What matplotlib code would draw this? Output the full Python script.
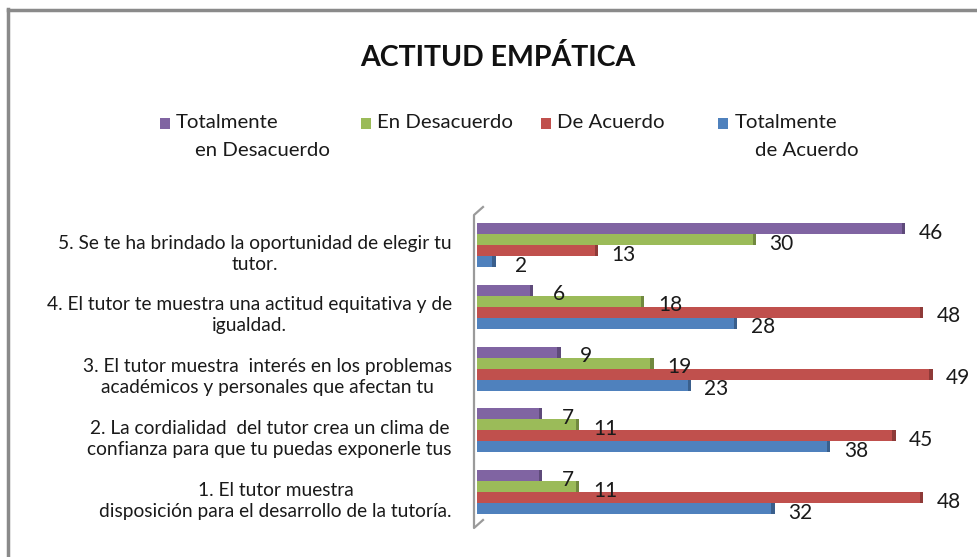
import matplotlib
matplotlib.use("Agg")
import matplotlib.pyplot as plt
import matplotlib.transforms as mtransforms
from matplotlib.lines import Line2D
from matplotlib.patches import Rectangle
import numpy as np

plt.rcParams['font.family'] = ['Lato', 'DejaVu Sans']

# Survey items (bottom to top)
categories = [
    "1. El tutor muestra\ndisposición para el desarrollo de la tutoría.",
    "2. La cordialidad  del tutor crea un clima de\nconfianza para que tu puedas exponerle tus",
    "3. El tutor muestra  interés en los problemas\nacadémicos y personales que afectan tu",
    "4. El tutor te muestra una actitud equitativa y de\nigualdad.",
    "5. Se te ha brindado la oportunidad de elegir tu\ntutor.",
]

series_names = ["Totalmente en Desacuerdo", "En Desacuerdo", "De Acuerdo", "Totalmente de Acuerdo"]
totalmente_desacuerdo = [7, 7, 9, 6, 46]
en_desacuerdo = [11, 11, 19, 18, 30]
de_acuerdo = [48, 45, 49, 48, 13]
totalmente_acuerdo = [32, 38, 23, 28, 2]

colors = ["#8064A2", "#9BBB59", "#C0504D", "#4F81BD"]
dark = ["#5E4A7A", "#71893F", "#8E3A38", "#3A5F8C"]

W, H = 978, 557
fig = plt.figure(figsize=(W / 100, H / 100), dpi=100)

# plot area in pixel units
x0_px, px_per_unit = 477, 9.3
xmax = 52
ax_left = x0_px / W
ax_width = xmax * px_per_unit / W
ax_top_px, ax_bot_px = 210, 522
ax = fig.add_axes([ax_left, 1 - ax_bot_px / H, ax_width, (ax_bot_px - ax_top_px) / H])

group_px = 61.75
bar_h = 11 / group_px
y = np.arange(len(categories))
offsets = [1.5 * bar_h, 0.5 * bar_h, -0.5 * bar_h, -1.5 * bar_h]
data = [totalmente_desacuerdo, en_desacuerdo, de_acuerdo, totalmente_acuerdo]

for vals, off, c, dc in zip(data, offsets, colors, dark):
    ypos = y + off
    ax.barh(ypos, vals, height=bar_h, color=c, edgecolor="none", zorder=2)
    # darker end face
    ax.barh(ypos, [0.35] * len(vals), left=np.array(vals) - 0.35, height=bar_h,
            color=dc, edgecolor="none", zorder=3)
    for yy, v in zip(ypos, vals):
        ax.annotate(str(v), (v, yy), xytext=(18.5, -3), textcoords="offset points",
                    ha="center", va="center", fontsize=15, color="#1a1a1a", zorder=4)

ax.set_xlim(0, xmax)
ax.set_ylim(-(ax_bot_px - 492) / group_px, 4 + (245 - ax_top_px) / group_px)
ax.set_yticks(y)
ax.set_yticklabels(categories, fontsize=13.8, multialignment="center", color="#1a1a1a",
                   linespacing=1.3)
ax.tick_params(axis="y", length=0, pad=18)
shift = mtransforms.ScaledTranslation(0, -5 / 100, fig.dpi_scale_trans)
for lbl in ax.get_yticklabels():
    lbl.set_transform(lbl.get_transform() + shift)
ax.set_xticks([])
for s in ax.spines.values():
    s.set_visible(False)
ax.patch.set_alpha(0)


def fx(px):
    return px / W


def fy(py):
    return 1 - py / H


# 3D-style wall on the left of the plot area
wall = Line2D([fx(483), fx(474), fx(474), fx(483)],
              [fy(207), fy(215), fy(528), fy(520)],
              transform=fig.transFigure, color="#9a9a9a", lw=1.6, zorder=1)
fig.add_artist(wall)

# chart border (top and left)
fig.add_artist(Line2D([fx(8), fx(8)], [fy(9), fy(557)], transform=fig.transFigure,
                      color="#8a8a8a", lw=2.5))
fig.add_artist(Line2D([fx(8), fx(978)], [fy(10), fy(10)], transform=fig.transFigure,
                      color="#8a8a8a", lw=2.5))

fig.text(fx(498), fy(57), "ACTITUD EMPÁTICA", ha="center", va="center",
         fontsize=20.5, fontweight="bold", color="#111111")

# legend
legend_items = [
    (160, ["Totalmente", "en Desacuerdo"], [176, 195]),
    (361, ["En Desacuerdo"], [377]),
    (541, ["De Acuerdo"], [557]),
    (718, ["Totalmente", "de Acuerdo"], [735, 755]),
]
for (sx, lines, txs), c in zip(legend_items, colors):
    fig.add_artist(Rectangle((fx(sx), fy(129)), 10 / W, 11 / H, transform=fig.transFigure,
                             facecolor=c, edgecolor="none"))
    for i, (t, tx) in enumerate(zip(lines, txs)):
        fig.text(fx(tx), fy(123 + 27 * i), t, ha="left", va="center",
                 fontsize=14.7, color="#1a1a1a")

fig.savefig("out.png", dpi=100, facecolor="white")
